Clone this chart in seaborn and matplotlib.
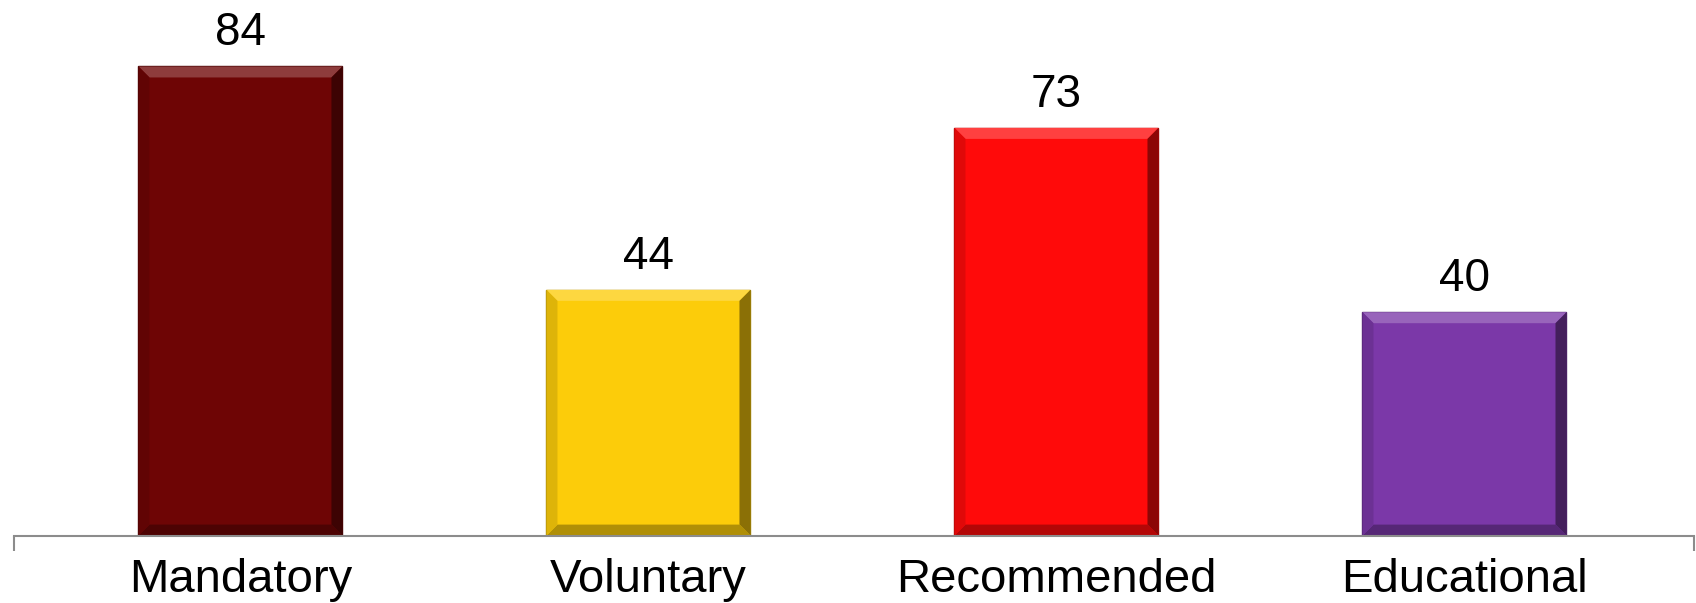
import matplotlib
matplotlib.use("Agg")
import matplotlib.pyplot as plt
import matplotlib.colors as mcolors
from matplotlib.patches import Polygon
import seaborn as sns
import pandas as pd
import numpy as np

categories = ["Mandatory", "Voluntary", "Recommended", "Educational"]
values = [84, 44, 73, 40]
colors = ["#6E0505", "#FCCC0A", "#FF0A0A", "#7B38A8"]

sns.set_theme(style="white")
plt.rcParams["font.family"] = ["Liberation Sans", "DejaVu Sans"]

df = pd.DataFrame({"category": categories, "value": values})

fig = plt.figure(figsize=(16.96, 6.03), dpi=100)
ax = fig.add_axes([14 / 1696, (603 - 535.6) / 603, 1680 / 1696, 535.6 / 603])

sns.barplot(data=df, x="category", y="value", hue="category", palette=colors,
            legend=False, width=0.5, ax=ax, saturation=1)

ax.set_xlim(-0.555, 3.5625)
ax.set_ylim(0, 95.9)


def shade(c, f):
    r = np.array(mcolors.to_rgb(c))
    if f >= 0:
        return tuple(r + (1 - r) * f)
    return tuple(r * (1 + f))


# bevel effect derived from each bar's geometry
fig.canvas.draw()
inv = ax.transData.inverted()
p0 = inv.transform((0, 0))
p1 = inv.transform((11, 11))
bx, by = p1[0] - p0[0], p1[1] - p0[1]
for patch in list(ax.patches):
    c = patch.get_facecolor()
    x, y = patch.get_x(), patch.get_y()
    w, h = patch.get_width(), patch.get_height()
    patch.set_edgecolor(shade(c, -0.35))
    patch.set_linewidth(1.0)
    X0, X1, Y0, Y1 = x, x + w, y, y + h
    top = [(X0, Y1), (X1, Y1), (X1 - bx, Y1 - by), (X0 + bx, Y1 - by)]
    right = [(X1, Y1), (X1, Y0), (X1 - bx, Y0 + by), (X1 - bx, Y1 - by)]
    bottom = [(X0, Y0), (X1, Y0), (X1 - bx, Y0 + by), (X0 + bx, Y0 + by)]
    left = [(X0, Y0), (X0, Y1), (X0 + bx, Y1 - by), (X0 + bx, Y0 + by)]
    for poly, f in [(top, 0.22), (right, -0.45), (bottom, -0.3), (left, -0.12)]:
        ax.add_patch(Polygon(poly, closed=True, facecolor=shade(c, f),
                             edgecolor="none", zorder=patch.get_zorder() + 0.1))

for cont in ax.containers:
    ax.bar_label(cont, fmt="%d", padding=8, fontsize=33, color="black")

for s in ["top", "right", "left"]:
    ax.spines[s].set_visible(False)
ax.spines["bottom"].set_color("#8C8C8C")
ax.spines["bottom"].set_linewidth(1.5)
ax.spines["bottom"].set_zorder(5)

ax.set_yticks([])
ax.set_xlabel("")
ax.set_ylabel("")
ax.tick_params(axis="x", which="major", length=0, pad=16, labelsize=34, labelcolor="black")
ax.set_xticks([-0.555, 3.5625], minor=True)
ax.tick_params(axis="x", which="minor", length=11, width=1.5, color="#8C8C8C", direction="out", bottom=True)

fig.savefig("out.png", dpi=100)
